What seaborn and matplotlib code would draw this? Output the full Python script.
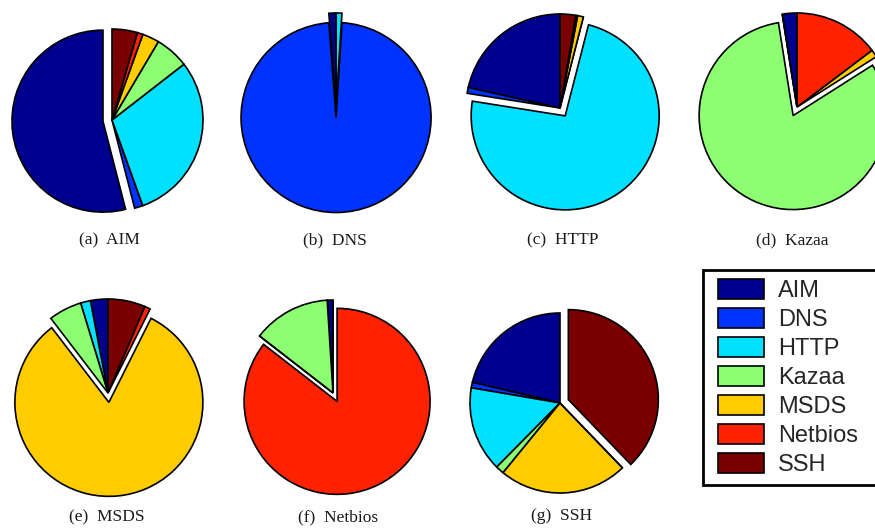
import matplotlib
matplotlib.use("Agg")
import matplotlib.pyplot as plt
from matplotlib.patches import Patch, Rectangle
from matplotlib.legend_handler import HandlerPatch
import seaborn as sns

sns.set_theme(style="white")
plt.rcParams['font.family'] = ['Liberation Serif', 'DejaVu Serif']

protocols = ["AIM", "DNS", "HTTP", "Kazaa", "MSDS", "Netbios", "SSH"]
colors = ["#00008F", "#0033FF", "#00E0FF", "#8CFF73", "#FFCC00", "#FF2200", "#7A0000"]

captions = ["(a)  AIM", "(b)  DNS", "(c)  HTTP", "(d)  Kazaa", "(e)  MSDS", "(f)  Netbios", "(g)  SSH"]

share_aim = [54.0, 1.5, 30.0, 6.0, 3.0, 1.0, 4.5]
share_dns = [1.2, 97.8, 1.0, 0.0, 0.0, 0.0, 0.0]
share_http = [21.5, 1.0, 73.5, 0.0, 1.0, 0.3, 2.7]
share_kazaa = [2.5, 0.0, 0.0, 81.5, 1.3, 14.7, 0.0]
share_msds = [3.0, 0.0, 1.7, 5.7, 82.2, 1.0, 6.4]
share_netbios = [1.0, 0.0, 0.0, 13.5, 0.0, 85.5, 0.0]
share_ssh = [21.3, 1.0, 15.3, 1.5, 23.1, 0.0, 37.8]

all_shares = [share_aim, share_dns, share_http, share_kazaa, share_msds, share_netbios, share_ssh]

W, H = 875, 530
fig = plt.figure(figsize=(W / 100, H / 100), dpi=100)

# layout: pie centre (px), radius (px)
centers = [(112, 120, 91), (336, 108, 95), (560, 108, 94), (797, 107, 94),
           (108, 393, 94), (333, 393, 93), (560, 403, 90)]
cap_pos = [(109, 240), (335, 240), (563, 240), (792, 240),
           (107, 517), (338, 517), (562, 516)]
L = 1.15

for i, (shares, (cx, cy, R)) in enumerate(zip(all_shares, centers)):
    S = 2 * L * R
    ax = fig.add_axes([(cx - S / 2) / W, 1 - (cy + S / 2) / H, S / W, S / H])
    explode = [0.1 if j == i else 0.0 for j in range(len(protocols))]
    ax.pie(shares, colors=colors, explode=explode, startangle=90, counterclock=True,
           wedgeprops=dict(edgecolor="black", linewidth=1.2), normalize=True)
    ax.set_xlim(-L, L)
    ax.set_ylim(-L, L)
    ax.set_aspect("equal")
    ax.axis("off")
    tx, ty = cap_pos[i]
    fig.text(tx / W, 1 - ty / H, captions[i], ha="center", va="center",
             fontsize=12.5, color="#1a1a1a")


def inset_patch(legend, orig_handle, xdescent, ydescent, width, height, fontsize):
    pad = 5.0
    return Rectangle((-xdescent + pad, -ydescent), width - pad, height)


handles = [Patch(facecolor=c, edgecolor="black", linewidth=1.2) for c in colors]
x0, x1, ytop = 703, 895, 271
leg = fig.legend(handles, protocols, loc="upper left", mode="expand",
                 bbox_to_anchor=(x0 / W, 1 - ytop / H, (x1 - x0) / W, 0.001),
                 frameon=True, fancybox=False, framealpha=1,
                 prop={"family": "Liberation Sans", "size": 17},
                 handlelength=2.24, handleheight=0.93, labelspacing=0.25,
                 handletextpad=0.6, borderpad=0.35, borderaxespad=0,
                 handler_map={Patch: HandlerPatch(patch_func=inset_patch)})
leg.get_frame().set_edgecolor("black")
leg.get_frame().set_linewidth(2)

fig.savefig("out.png", dpi=100)
